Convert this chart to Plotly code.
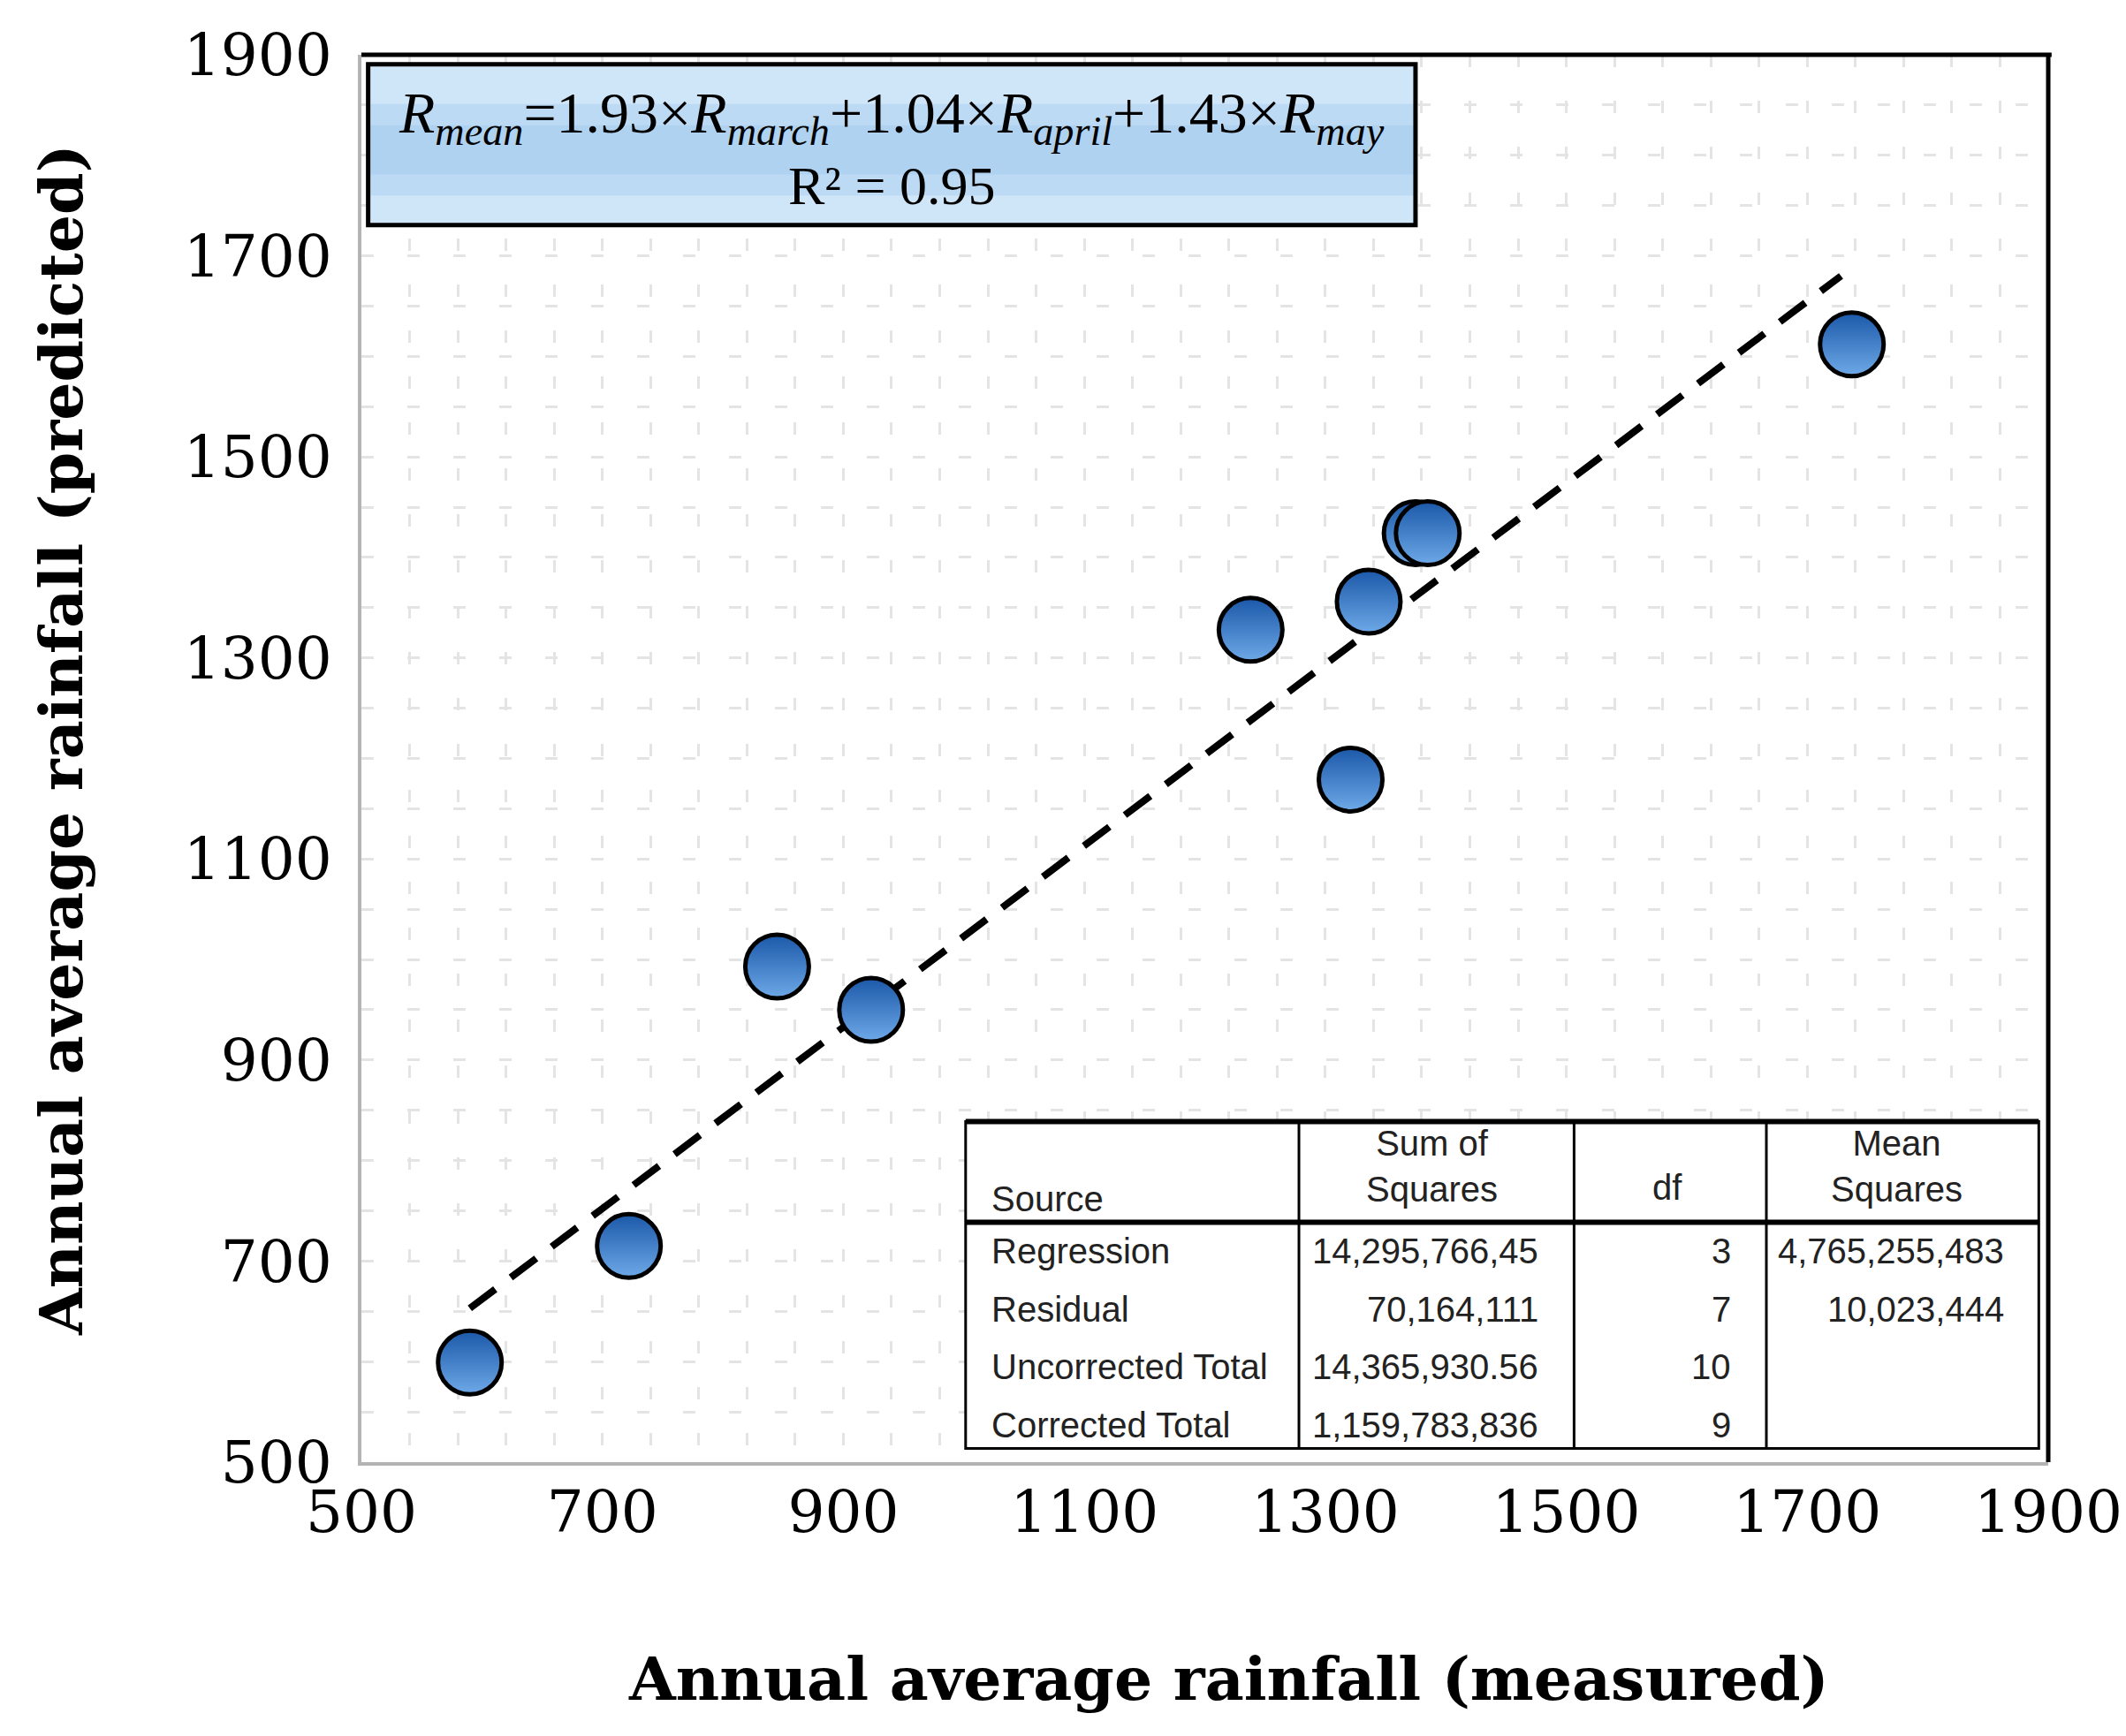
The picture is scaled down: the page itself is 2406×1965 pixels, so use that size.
import plotly.graph_objects as go

# measured vs predicted annual average rainfall
measured = [590, 722, 845, 923, 1238, 1321, 1336, 1375, 1385, 1737]
predicted = [599, 715, 993, 950, 1328, 1179, 1356, 1424, 1424, 1612]

# dashed trend line end points
trend_x = [590, 1728]
trend_y = [653, 1680]

tick_vals = [500, 700, 900, 1100, 1300, 1500, 1700, 1900]

# ANOVA table
table_header = ["Source", "Sum of<br>Squares", "df", "Mean<br>Squares"]
sources = ["Regression", "Residual", "Uncorrected Total", "Corrected Total"]
sum_squares = ["14,295,766,45", "70,164,111", "14,365,930.56", "1,159,783,836"]
dfs = ["3", "7", "10", "9"]
mean_squares = ["4,765,255,483", "10,023,444", "", ""]

equation = ("<i>R</i><sub><i>mean</i></sub>=1.93×<i>R</i><sub><i>march</i></sub>"
            "+1.04×<i>R</i><sub><i>april</i></sub>+1.43×<i>R</i><sub><i>may</i></sub>")
r2_text = "R² = 0.95"

W, H = 2406, 1965
serif = "DejaVu Serif"

fig = go.Figure()

fig.add_trace(go.Scatter(
    x=trend_x, y=trend_y, mode="lines",
    line=dict(color="black", width=8, dash="36px,22px"),
    showlegend=False, hoverinfo="skip"))

fig.add_trace(go.Scatter(
    x=measured, y=predicted, mode="markers",
    marker=dict(size=72, color="#1b58a8",
                gradient=dict(type="vertical", color="#6ea9e8"),
                line=dict(color="black", width=5)),
    showlegend=False))

grid_style = dict(gridcolor="#e4e4e4", gridwidth=3, griddash="14px,38px")

fig.update_xaxes(
    range=[500, 1900], tickvals=tick_vals, showgrid=True, **grid_style,
    minor=dict(dtick=40, tick0=500, showgrid=True, **grid_style),
    showline=True, linecolor="#b4b4b4", linewidth=4, zeroline=False,
    ticks="", ticklabelstandoff=-4, ticklabeloverflow="allow",
    tickfont=dict(family=serif, size=66, color="black"))
fig.update_yaxes(
    range=[500, 1900], tickvals=tick_vals, showgrid=True, **grid_style,
    minor=dict(dtick=50, tick0=500, showgrid=True, **grid_style),
    showline=True, linecolor="#b4b4b4", linewidth=4, zeroline=False,
    ticks="", ticklabelstandoff=16, ticklabeloverflow="allow",
    tickfont=dict(family=serif, size=66, color="black"))

shapes = []
# black top / right frame
shapes.append(dict(type="line", xref="paper", yref="paper", x0=0, x1=1.002, y0=1, y1=1,
                   line=dict(color="black", width=5), layer="above"))
shapes.append(dict(type="line", xref="paper", yref="paper", x0=1, x1=1, y0=0, y1=1,
                   line=dict(color="black", width=5), layer="above"))

# equation box (light blue, darker band towards the middle)
shapes.append(dict(type="rect", xref="paper", yref="paper", x0=0.004, x1=0.6249, y0=0.879, y1=0.9932,
                   fillcolor="#cfe5f8", line=dict(width=0), layer="above"))
shapes.append(dict(type="rect", xref="paper", yref="paper", x0=0.004, x1=0.6249, y0=0.900, y1=0.965,
                   fillcolor="#bcdaf4", line=dict(width=0), layer="above"))
shapes.append(dict(type="rect", xref="paper", yref="paper", x0=0.004, x1=0.6249, y0=0.915, y1=0.950,
                   fillcolor="#afd2f1", line=dict(width=0), layer="above"))
shapes.append(dict(type="rect", xref="paper", yref="paper", x0=0.004, x1=0.6249, y0=0.879, y1=0.9932,
                   fillcolor="rgba(0,0,0,0)", line=dict(color="black", width=5), layer="above"))

# table
tx = [0.3582, 0.5558, 0.7189, 0.8329, 0.9944]
ty_top, ty_head, ty_bot = 0.2420, 0.1704, 0.0097
shapes.append(dict(type="rect", xref="paper", yref="paper", x0=tx[0], x1=tx[-1], y0=ty_bot, y1=ty_top,
                   fillcolor="white", line=dict(color="black", width=3), layer="above"))
shapes.append(dict(type="line", xref="paper", yref="paper", x0=tx[0], x1=tx[-1], y0=ty_top, y1=ty_top,
                   line=dict(color="black", width=6), layer="above"))
shapes.append(dict(type="line", xref="paper", yref="paper", x0=tx[0], x1=tx[-1], y0=ty_head, y1=ty_head,
                   line=dict(color="black", width=6), layer="above"))
for xv in tx[1:-1]:
    shapes.append(dict(type="line", xref="paper", yref="paper", x0=xv, x1=xv, y0=ty_bot, y1=ty_top,
                       line=dict(color="black", width=3), layer="above"))


def note(x, y, text, font, xanchor="center", **kw):
    return dict(xref="paper", yref="paper", x=x, y=y, text=text, showarrow=False,
                xanchor=xanchor, yanchor="middle", font=font, **kw)


annotations = []
annotations.append(note(0.3141, 0.9560, equation,
                        dict(family="Liberation Serif", size=66, color="black")))
annotations.append(note(0.3141, 0.9070, r2_text,
                        dict(family="Liberation Serif", size=62, color="black")))

tfont = dict(family="Liberation Sans", size=40, color="#222222")
annotations.append(note(0.3727, 0.1870, table_header[0], tfont, xanchor="left"))
for txt, xc in zip(table_header[1:], [0.6345, 0.7743, 0.9100]):
    annotations.append(note(xc, 0.2105 if "<br>" in txt else 0.1955, txt, tfont, align="center"))

row_y = [0.1500, 0.1084, 0.0678, 0.0261]
for i, yv in enumerate(row_y):
    annotations.append(note(0.3727, yv, sources[i], tfont, xanchor="left"))
    annotations.append(note(0.6988, yv, sum_squares[i], tfont, xanchor="right"))
    annotations.append(note(0.8129, yv, dfs[i], tfont, xanchor="right"))
    if mean_squares[i]:
        annotations.append(note(0.9751, yv, mean_squares[i], tfont, xanchor="right"))

# axis titles
annotations.append(note(0.514, -0.154, "<b>Annual average rainfall (measured)</b>",
                        dict(family=serif, size=68, color="black")))
annotations.append(note(-0.178, 0.513, "<b>Annual average rainfall (predicted)</b>",
                        dict(family=serif, size=68, color="black"), textangle=-90))

fig.update_layout(
    width=W, height=H,
    margin=dict(l=401, r=85, t=54, b=318),
    paper_bgcolor="white", plot_bgcolor="white",
    shapes=shapes, annotations=annotations,
    showlegend=False)

fig.write_html("out.html")
